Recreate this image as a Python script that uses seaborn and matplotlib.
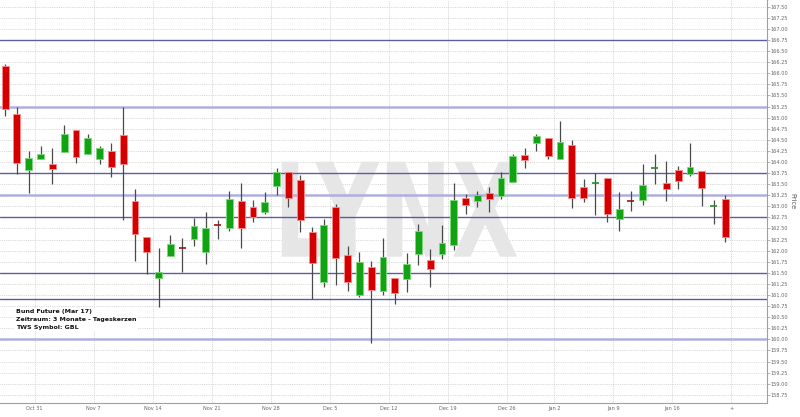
import numpy as np
import pandas as pd
import matplotlib
matplotlib.use("Agg")
import matplotlib.pyplot as plt
import seaborn as sns
from matplotlib.textpath import TextPath
from matplotlib.patches import PathPatch
from matplotlib.font_manager import FontProperties
from matplotlib.transforms import Affine2D

# trading days, Oct 26 2016 - Jan 20 2017 (Dec 26 closed)
dates = [d for d in pd.bdate_range("2016-10-26", "2017-01-20") if d != pd.Timestamp("2016-12-26")]

open_ = [166.16, 165.07, 163.81, 164.06, 163.96, 164.22, 164.73, 164.19, 164.07, 164.25,
         164.60, 163.13, 162.31, 161.39, 161.87, 162.06, 162.26, 161.98, 162.58, 162.50,
         163.13, 162.98, 162.88, 163.45, 163.77, 163.59, 162.42, 161.29, 162.99, 161.90,
         161.00, 161.63, 161.10, 161.38, 161.37, 161.93, 161.79, 161.92, 162.12, 163.18,
         163.13, 163.31, 163.23, 163.55, 164.16, 164.43, 164.54, 164.07, 164.38, 163.44,
         163.51, 163.63, 162.71, 163.13, 163.15, 163.85, 163.52, 163.81, 163.72, 163.79,
         163.00, 163.17]
high = [166.20, 165.25, 164.25, 164.36, 164.31, 164.83, 164.73, 164.63, 164.37, 164.43,
        165.25, 163.39, 162.31, 162.07, 162.35, 162.29, 162.74, 162.88, 162.70, 163.35,
        163.52, 163.14, 163.33, 163.86, 163.77, 163.71, 162.53, 162.71, 163.05, 162.11,
        161.98, 161.77, 162.29, 161.38, 161.95, 162.60, 162.03, 162.57, 163.52, 163.27,
        163.35, 163.44, 163.78, 164.17, 164.31, 164.64, 164.54, 164.92, 164.50, 163.61,
        163.74, 163.63, 163.32, 163.35, 163.96, 164.18, 164.02, 163.90, 164.43, 163.79,
        163.14, 163.26]
low = [165.04, 163.72, 163.29, 164.06, 163.50, 164.22, 163.97, 164.17, 163.95, 163.65,
       162.70, 161.77, 161.47, 160.72, 161.87, 161.51, 162.11, 161.69, 162.27, 162.45,
       162.05, 162.65, 162.82, 163.25, 162.98, 162.41, 160.91, 161.19, 161.23, 161.08,
       160.95, 159.91, 161.00, 160.80, 161.06, 161.68, 161.19, 161.81, 162.02, 162.82,
       162.99, 162.87, 163.16, 163.55, 163.87, 164.25, 164.07, 164.07, 162.97, 163.09,
       162.80, 162.65, 162.45, 162.90, 163.02, 163.50, 163.12, 163.38, 163.69, 163.01,
       162.60, 162.19]
close = [165.19, 163.97, 164.10, 164.19, 163.83, 164.63, 164.12, 164.54, 164.31, 163.89,
         163.95, 162.38, 161.98, 161.52, 162.14, 162.04, 162.56, 162.50, 162.56, 163.17,
         162.52, 162.76, 163.10, 163.77, 163.19, 162.69, 161.73, 162.57, 161.84, 161.30,
         161.74, 161.12, 161.86, 161.05, 161.70, 162.45, 161.59, 162.17, 163.14, 163.04,
         163.26, 163.17, 163.64, 164.13, 164.04, 164.59, 164.14, 164.45, 163.19, 163.19,
         163.53, 162.83, 162.93, 163.11, 163.47, 163.87, 163.40, 163.58, 163.88, 163.42,
         163.02, 162.30]

# drawn support / resistance levels
levels_dark = [166.75, 163.75, 162.75, 161.50, 160.90]
levels_light = [165.25, 163.25, 160.00]

info_lines = ["Bund Future (Mar 17)", "Zeitraum: 3 Monate - Tageskerzen", "TWS Symbol: GBL"]

df = pd.DataFrame({"date": dates, "open": open_, "high": high, "low": low, "close": close})
df["pos"] = np.arange(len(df))
df["up"] = df["close"] >= df["open"]

sns.set_style("white")
fig = plt.figure(figsize=(8, 4.17), dpi=100)
ax = fig.add_axes([0, 14 / 417, 766.7 / 800, 403 / 417])

RED, GREEN = "#d40000", "#12a312"
w = 0.58

# watermark
tp = TextPath((0, 0), "LYNX", size=1, prop=FontProperties(family="DejaVu Sans", weight="bold"))
ext = tp.get_extents()
x0, x1, y0, y1 = 0.3678, 0.6743, 0.363, 0.5988
tr = Affine2D().translate(-ext.x0, -ext.y0).scale((x1 - x0) / ext.width, (y1 - y0) / ext.height).translate(x0, y0)
ax.add_patch(PathPatch(tr.transform_path(tp), transform=ax.transAxes, facecolor="#e6e6e6",
                       edgecolor="none", zorder=0.8))

# support lines
for lv in levels_dark:
    ax.axhline(lv, color="#5c5ca4", lw=1.0, zorder=1.5)
for lv in levels_light:
    ax.axhline(lv, color="#aeaee0", lw=1.8, zorder=1.5)

# wicks
ax.vlines(df["pos"], df["low"], df["high"], color="#4a4a4a", lw=0.9, zorder=2)

# bodies
for up, col, edge in [(True, GREEN, "#7fd87f"), (False, RED, "#ff8a8a")]:
    sub = df[(df["up"] == up) & ((df["close"] - df["open"]).abs() >= 0.03)]
    lo = sub[["open", "close"]].min(axis=1)
    hi = sub[["open", "close"]].max(axis=1)
    ax.bar(sub["pos"], hi - lo, bottom=lo, width=w, color=col, edgecolor=edge, linewidth=0.6, zorder=3)

doji = df[(df["close"] - df["open"]).abs() < 0.03]
for _, r in doji.iterrows():
    ax.hlines((r["open"] + r["close"]) / 2, r["pos"] - w / 2, r["pos"] + w / 2,
              color="#2a8a2a" if r["up"] else "#a01010", lw=1.2, zorder=3)

# info text
ax.text(0.0205, 0.2333, "\n".join(info_lines), transform=ax.transAxes, ha="left", va="top",
        fontsize=4.5, fontweight="bold", linespacing=1.75, color="#111111",
        bbox=dict(facecolor="white", edgecolor="none", pad=1.0), zorder=4)

# axes
weeks = df.groupby(df["date"].dt.to_period("W"))["pos"].min()
tick_pos = [p - 0.5 for p in weeks.values[1:]] + [len(df) - 0.5]
tick_lab = [per.start_time.strftime("%b %-d") for per in weeks.index[1:]] + ["+"]
ax.set_xticks(tick_pos)
ax.set_xticklabels(tick_lab)
ax.set_xlim(-0.43, 64.5)

ax.set_yticks(np.arange(158.75, 167.51, 0.25))
ax.set_ylim(158.566, 167.651)
ax.yaxis.tick_right()
ax.yaxis.set_label_position("right")
ax.set_ylabel("Price", rotation=270, fontsize=4.8, color="#555555", labelpad=5)

ax.set_axisbelow(True)
ax.grid(True, color="#cdcdcd", linestyle=(0, (1, 1.2)), linewidth=0.6)
ax.tick_params(axis="y", right=True, left=False, length=2, width=0.5, color="#999999",
               labelsize=3.6, labelcolor="#666666", pad=1)
ax.tick_params(axis="x", bottom=False, length=0, labelsize=3.6, labelcolor="#666666", pad=2.5)
for s in ["left", "top"]:
    ax.spines[s].set_visible(False)
for s in ["right", "bottom"]:
    ax.spines[s].set_color("#a0a0a0")
    ax.spines[s].set_linewidth(0.8)

fig.savefig("out.png", dpi=100)
